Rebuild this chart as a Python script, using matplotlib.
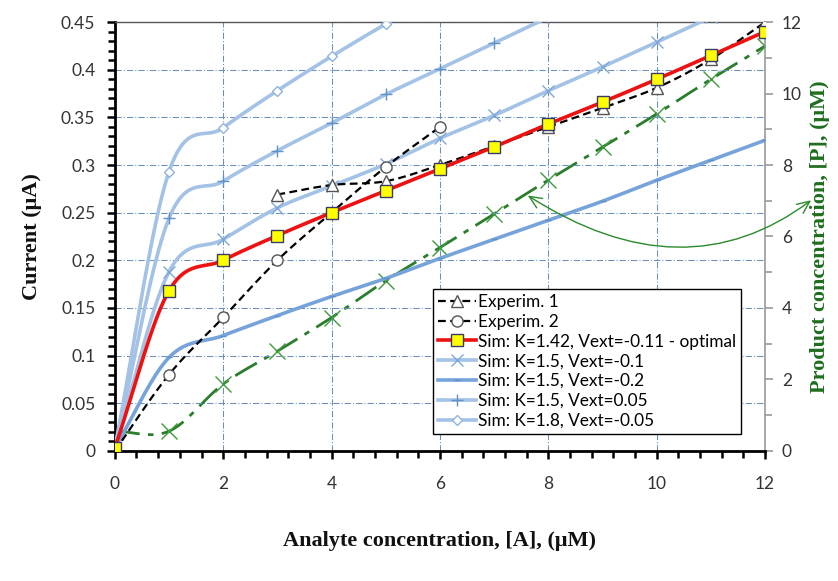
import numpy as np
import matplotlib
matplotlib.use('Agg')
import matplotlib.pyplot as plt
from matplotlib.patches import FancyArrowPatch
from matplotlib.path import Path
from matplotlib.ticker import MultipleLocator, FuncFormatter

# ---------------- data ----------------
x_all = [0, 1, 2, 3, 4, 5, 6, 7, 8, 9, 10, 11, 12]
sim_opt = [0.003, 0.168, 0.200, 0.226, 0.250, 0.273, 0.296, 0.319, 0.343, 0.366, 0.390, 0.415, 0.440]
sim_k15_m01 = [0.003, 0.188, 0.222, 0.255, 0.278, 0.301, 0.328, 0.352, 0.378, 0.403, 0.429, 0.455]
sim_k15_m02 = [0.003, 0.098, 0.121, 0.142, 0.162, 0.181, 0.202, 0.222, 0.242, 0.262, 0.284, 0.305, 0.326]
sim_k15_p005 = [0.003, 0.244, 0.283, 0.315, 0.344, 0.374, 0.401, 0.428, 0.455]
sim_k18_m005 = [0.003, 0.293, 0.339, 0.378, 0.414, 0.448, 0.480]
exp1_x = [3, 4, 5, 6, 7, 8, 9, 10, 11, 12]
exp1 = [0.269, 0.279, 0.283, 0.300, 0.320, 0.340, 0.360, 0.381, 0.411, 0.450]
exp2_x = [0, 1, 2, 3, 4, 5, 6]
exp2 = [0.0, 0.080, 0.140, 0.200, 0.250, 0.298, 0.340]
product = [0.55, 0.55, 1.87, 2.79, 3.73, 4.76, 5.69, 6.63, 7.58, 8.50, 9.43, 10.40, 11.33]

labels = ["Experim. 1", "Experim. 2", "Sim: K=1.42, Vext=-0.11 - optimal",
          "Sim: K=1.5, Vext=-0.1", "Sim: K=1.5, Vext=-0.2",
          "Sim: K=1.5, Vext=0.05", "Sim: K=1.8, Vext=-0.05"]

xticks = [0, 2, 4, 6, 8, 10, 12]
yticks = [0, 0.05, 0.1, 0.15, 0.2, 0.25, 0.3, 0.35, 0.4, 0.45]
rticks = [0, 2, 4, 6, 8, 10, 12]


def smooth(xs, ys, n=20):
    """Catmull-Rom style smoothing (like a spreadsheet 'smoothed line');
    returns dense curve and indices of the original points."""
    p = np.column_stack([np.asarray(xs, float), np.asarray(ys, float)])
    m = len(p)
    if m < 3:
        return p[:, 0], p[:, 1], list(range(m))
    tang = np.zeros_like(p)
    tang[0] = p[1] - p[0]
    tang[-1] = p[-1] - p[-2]
    tang[1:-1] = (p[2:] - p[:-2]) / 2.0
    out = [p[0:1]]
    idx = [0]
    t = np.linspace(0, 1, n + 1)[1:]
    for i in range(m - 1):
        b0 = p[i]
        b1 = p[i] + tang[i] / 3.0
        b2 = p[i + 1] - tang[i + 1] / 3.0
        b3 = p[i + 1]
        tt = t[:, None]
        seg = ((1 - tt) ** 3) * b0 + 3 * ((1 - tt) ** 2) * tt * b1 + 3 * (1 - tt) * tt ** 2 * b2 + tt ** 3 * b3
        out.append(seg)
        idx.append(idx[-1] + n)
    arr = np.vstack(out)
    return arr[:, 0], arr[:, 1], idx


fig = plt.figure(figsize=(8.38, 5.81), dpi=100)
ax = fig.add_axes([0.137, 0.224, 0.776, 0.738])
ax2 = ax.twinx()

ax.set_zorder(ax2.get_zorder() + 1)
ax.patch.set_visible(False)

lb = '#a3c2e6'
lb2 = '#76a3da'

# grid
ax.set_xlim(0, 12)
ax.set_ylim(0, 0.45)
ax2.set_ylim(0, 12)
ax.set_xticks(xticks)
ax.set_yticks(yticks)
ax2.set_yticks(rticks)
ax.grid(True, which='major', color='#6a90bd', linestyle=(0, (6, 2, 1, 2)), linewidth=0.75, zorder=0)

# product (right axis)
xs, ys, idx = smooth(x_all, product)
ax2.plot(xs, ys, color='#2a7d2a', linestyle=(0, (9, 3, 2, 3)), linewidth=2.0,
         marker='x', markersize=12, markeredgewidth=1.0, markevery=idx,
         markeredgecolor='#3d9a3d')

# sims (light blue)
xs, ys, idx = smooth(x_all[:len(sim_k15_m01)], sim_k15_m01)
h4, = ax.plot(xs, ys, color=lb, lw=2.6, marker='x', ms=9, mew=1.0, mec='#7fa8d8', markevery=idx, label=labels[3], zorder=3)
xs, ys, idx = smooth(x_all, sim_k15_m02)
h5, = ax.plot(xs, ys, color=lb2, lw=2.6, marker='_', ms=5, mew=1.0, mec='#5f92c8', markevery=idx, label=labels[4], zorder=3)
xs, ys, idx = smooth(x_all[:len(sim_k15_p005)], sim_k15_p005)
h6, = ax.plot(xs, ys, color=lb, lw=2.6, marker='+', ms=9, mew=1.0, mec='#5f92c8', markevery=idx, label=labels[5], zorder=3)
xs, ys, idx = smooth(x_all[:len(sim_k18_m005)], sim_k18_m005)
h7, = ax.plot(xs, ys, color=lb, lw=2.6, marker='D', ms=5.5, mew=1.0, mec='#8fb3de', mfc='white', markevery=idx, label=labels[6], zorder=3)

# experiments
xs, ys, idx = smooth(exp2_x, exp2)
h2, = ax.plot(xs, ys, color='black', lw=1.6, ls=(0, (3.5, 2)), marker='o', ms=8, mfc='white', mec='#555555', mew=1.0,
              markevery=idx, label=labels[1], zorder=4)
xs, ys, idx = smooth(exp1_x, exp1)
h1, = ax.plot(xs, ys, color='black', lw=1.6, ls=(0, (3.5, 2)), marker='^', ms=8, mfc='white', mec='#555555', mew=1.0,
              markevery=idx, label=labels[0], zorder=4)

# optimal
xs, ys, idx = smooth(x_all, sim_opt)
h3, = ax.plot(xs, ys, color='#ee1111', lw=2.6, marker='s', ms=8, mfc='#ffff00', mec='#3a3a6a', mew=1.0,
              markevery=idx, label=labels[2], zorder=5)

# annotation arrow
verts = [(7.62, 0.268), (10.5, 0.163), (12.85, 0.263)]
path = Path(verts, [Path.MOVETO, Path.CURVE3, Path.CURVE3])
arr = FancyArrowPatch(path=path, arrowstyle='<->,head_length=9,head_width=4', color='#2b8a2b', lw=1.0,
                      transform=ax.transData, clip_on=False, zorder=6)
ax.add_patch(arr)

# legend
leg = ax.legend(handles=[h1, h2, h3, h4, h5, h6, h7], loc='upper left',
                bbox_to_anchor=(0.489, 0.378),
                prop={'family': 'Lato', 'size': 12.4}, frameon=True, fancybox=False,
                edgecolor='black', framealpha=1.0, borderpad=0.3, labelspacing=0.22,
                handlelength=2.2, handletextpad=0.1, borderaxespad=0)
leg.get_frame().set_linewidth(1.0)
leg.set_zorder(10)

# spines & ticks
for s in ['left', 'bottom']:
    ax.spines[s].set_linewidth(2.0)
    ax.spines[s].set_color('black')
ax.spines['top'].set_color('#555555')
ax.spines['top'].set_linewidth(1.0)
ax.spines['right'].set_visible(False)
for s in ['left', 'bottom', 'top']:
    ax2.spines[s].set_visible(False)
ax2.spines['right'].set_color('#999999')
ax2.spines['right'].set_linewidth(1.2)

ax.yaxis.set_minor_locator(MultipleLocator(0.01))
ax.xaxis.set_minor_locator(MultipleLocator(0.4))
ax2.yaxis.set_minor_locator(MultipleLocator(1))

ax.tick_params(axis='both', which='both', direction='out', color='black', width=1.8, labelcolor='#333333',
               labelsize=12.5)
ax.tick_params(axis='both', which='major', length=6)
ax.tick_params(axis='both', which='minor', length=5)
ax.tick_params(axis='x', pad=12)
ax.tick_params(axis='y', pad=8)
ax2.tick_params(axis='y', which='both', direction='out', color='#999999', width=1.2, labelcolor='#333333',
                labelsize=12.5, pad=6)
ax2.tick_params(axis='y', which='major', length=6)
ax2.tick_params(axis='y', which='minor', length=5)

fmt = FuncFormatter(lambda v, p: ('%g' % round(v, 4)))
ax.yaxis.set_major_formatter(fmt)
for lab in ax.get_xticklabels() + ax.get_yticklabels() + ax2.get_yticklabels():
    lab.set_fontfamily('Lato')

ax.set_xlabel('Analyte concentration, [A], (\u03bcM)', fontfamily='Liberation Serif', fontweight='bold',
              fontsize=16, labelpad=28, color='#111111')
ax.set_ylabel('Current (\u03bcA)', fontfamily='Liberation Serif', fontweight='bold', fontsize=16,
              labelpad=14, color='#111111')
ax2.set_ylabel('Product concentration, [P], (\u03bcM)', fontfamily='Liberation Serif', fontweight='bold',
               fontsize=16, labelpad=6, color='#1e6e1e')

fig.savefig('out.png', dpi=100)
